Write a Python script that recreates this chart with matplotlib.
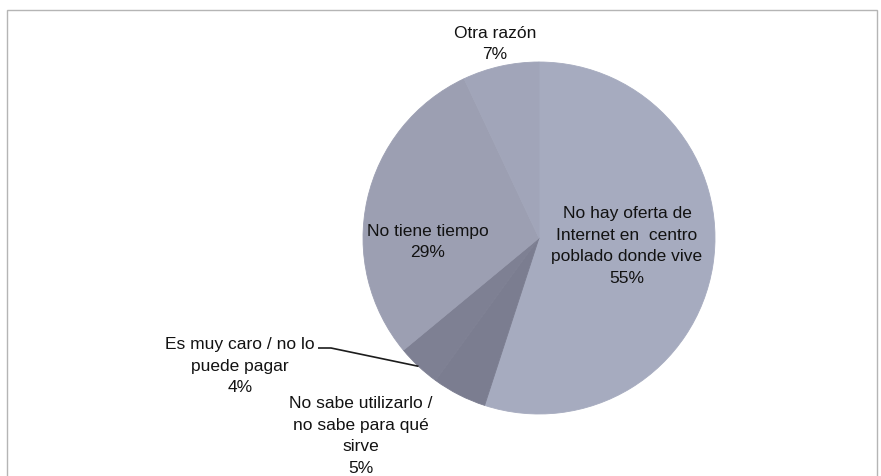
import numpy as np
import matplotlib
matplotlib.use("Agg")
import matplotlib.pyplot as plt
from matplotlib.patches import Rectangle

plt.rcParams['font.family'] = ['Liberation Sans Narrow', 'Liberation Sans', 'DejaVu Sans']

# ---- data ----
categories = [
    "No hay oferta de\nInternet en  centro\npoblado donde vive",
    "No sabe utilizarlo /\nno sabe para qué\nsirve",
    "Es muy caro / no lo\npuede pagar",
    "No tiene tiempo",
    "Otra razón",
]
values = [55, 5, 4, 29, 7]
colors = ['#a6abbf', '#7b7d90', '#7e8093', '#9c9fb2', '#a1a5b9']

W, H = 881, 476
fig = plt.figure(figsize=(W / 100, H / 100), dpi=100)
ax = fig.add_axes([0, 0, 1, 1])

cx, cy, R = 539, H - 238, 176
wedges, _ = ax.pie(values, colors=colors, startangle=90, counterclock=False,
                   center=(cx, cy), radius=R)
for wdg, c in zip(wedges, colors):
    wdg.set_edgecolor(c)
    wdg.set_linewidth(0.6)
ax.set_xlim(0, W)
ax.set_ylim(0, H)
ax.set_aspect('equal')
ax.axis('off')

# label positions (pixel coordinates of text block centres, y from top)
label_pos = [(627, 246), (361, 436), (240, 366), (428, 242), (495, 44)]
for cat, v, (lx, ly) in zip(categories, values, label_pos):
    ax.text(lx, H - ly, f"{cat}\n{v}%", ha='center', va='center',
            fontsize=12.5, color='#121212', linespacing=1.55)

# leader line for the 4% slice
w = wedges[2]
mid = np.deg2rad((w.theta1 + w.theta2) / 2)
ex, ey = cx + R * np.cos(mid), cy + R * np.sin(mid)
ax.plot([318, 331, ex], [H - 348, H - 348, ey], color='#1c1c1c', lw=1.2,
        solid_capstyle='butt')

# chart frame
fig.patches.append(Rectangle((7 / W, -0.05), 870 / W, (H - 10) / H + 0.05,
                             transform=fig.transFigure, fill=False,
                             edgecolor='#b5b5b5', lw=1))

fig.savefig("out.png", dpi=100, facecolor='white')
